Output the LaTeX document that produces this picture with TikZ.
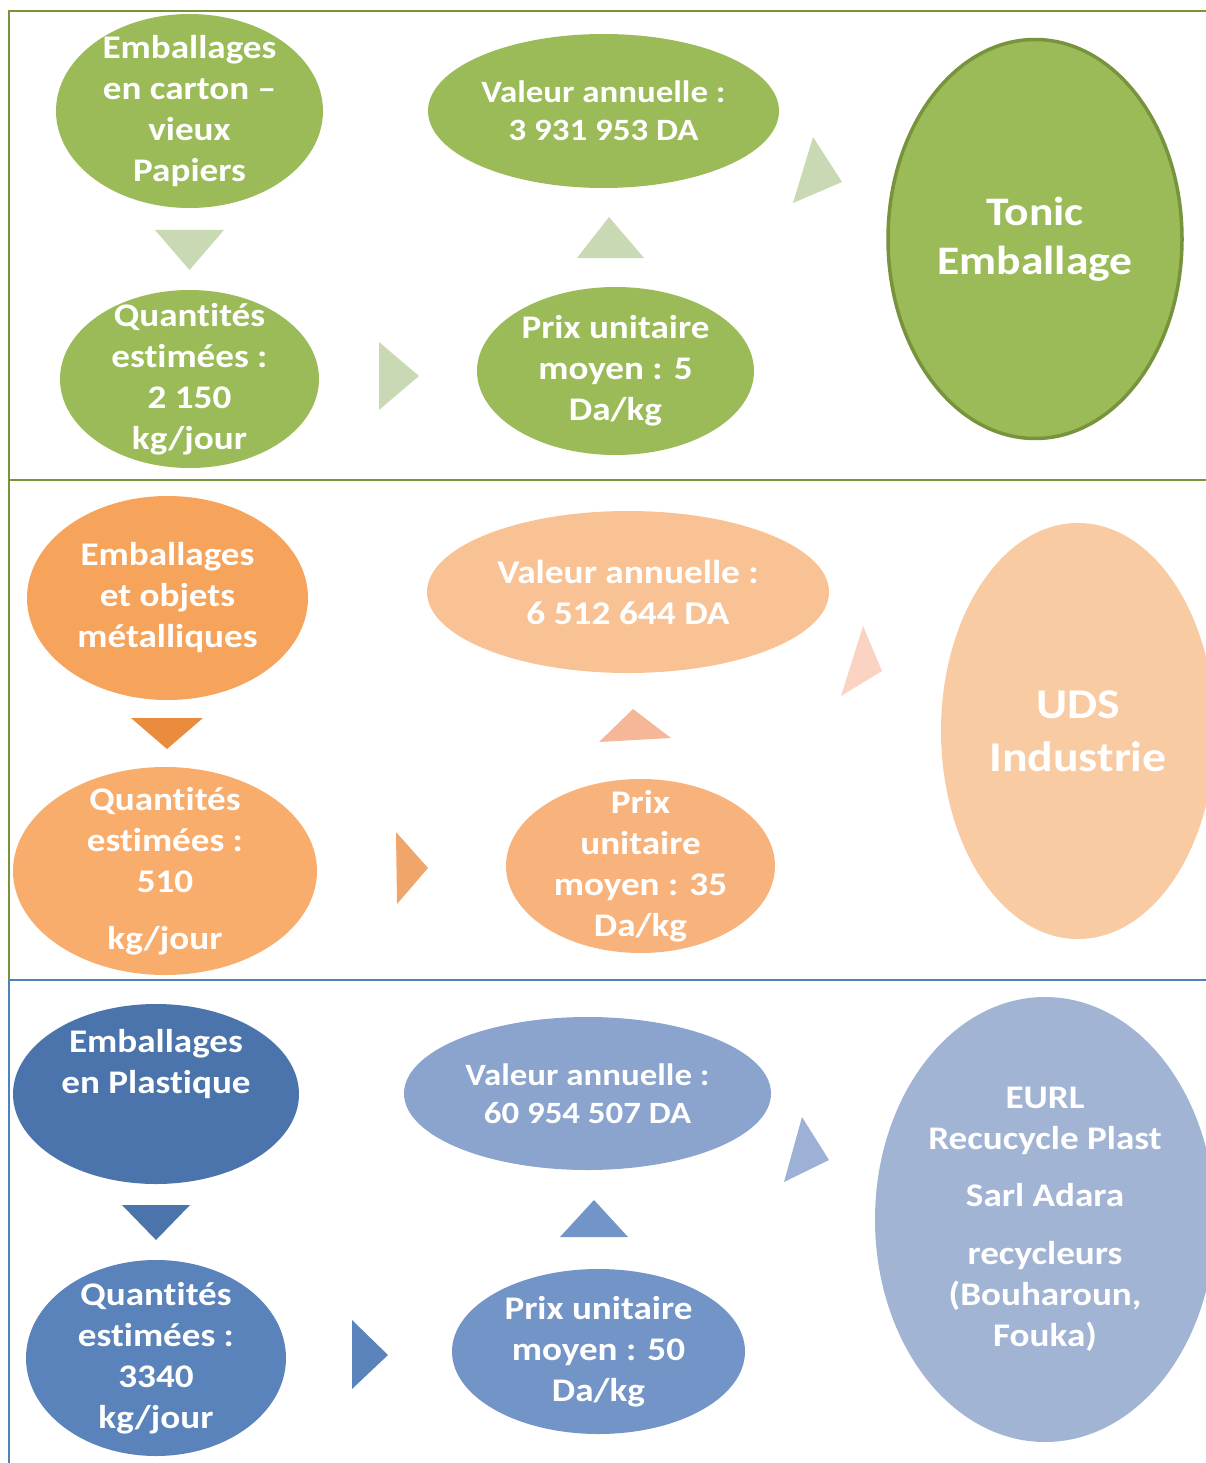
\documentclass[tikz,border=0pt]{standalone}
\usepackage{fontspec}
\setmainfont{Carlito}[FakeStretch=1.125, Ligatures=NoCommon]
\usetikzlibrary{shapes.geometric}
\definecolor{gA}{HTML}{9BBB59}
\definecolor{gB}{HTML}{77933C}
\definecolor{gT}{HTML}{C9D9B4}
\definecolor{oA}{HTML}{F6A35B}
\definecolor{oQ}{HTML}{F8AD6D}
\definecolor{oP}{HTML}{F8B37C}
\definecolor{oV}{HTML}{F9C295}
\definecolor{oU}{HTML}{F9CBA2}
\definecolor{oT1}{HTML}{EA8C3E}
\definecolor{oT2}{HTML}{F0A56B}
\definecolor{oT3}{HTML}{F5B797}
\definecolor{oT4}{HTML}{FAD3C2}
\definecolor{bA}{HTML}{4A74AB}
\definecolor{bQ}{HTML}{5A83BB}
\definecolor{bP}{HTML}{7394C6}
\definecolor{bV}{HTML}{8AA4CD}
\definecolor{bR}{HTML}{A2B4D4}
\definecolor{bT4}{HTML}{9DB1D6}
\definecolor{bL}{HTML}{4F81BD}
\tikzset{
  ell/.style={ellipse, draw=none, inner sep=0pt, outer sep=0pt},
  lbl/.style={text=white, align=center, inner sep=0pt, font=\fontsize{33}{41}\selectfont\bfseries},
  lblv/.style={text=white, align=center, inner sep=0pt, font=\fontsize{31}{38}\selectfont\bfseries},
  frameG/.style={draw=gB, line width=2.5pt},
  frameB/.style={draw=bL, line width=2.5pt},
}
\begin{document}
\begin{tikzpicture}[x=1pt,y=-1pt]
\useasboundingbox (0,0) rectangle (1206,1463);
% frame lines
\draw[frameG] (1206,11) -- (9,11) -- (9,980);
\draw[frameG] (9,480) -- (1206,480);
\draw[frameB] (9,980) -- (1206,980);
\draw[frameB] (9,980) -- (9,1463);

% ---------- section 1 (green)
\node[ell, fill=gA, minimum width=267pt, minimum height=194pt] (a1) at (189.5,111) {};
\node[lbl] (a1t) at (a1.center) {Emballages\\en carton –\\vieux\\Papiers};
\node[ell, fill=gA, minimum width=259pt, minimum height=178pt] (q1) at (189.5,379) {};
\node[lbl] (q1t) at (q1.center) {Quantités\\estimées :\\2 150\\kg/jour};
\node[ell, fill=gA, minimum width=277pt, minimum height=168pt] (p1) at (615.5,371) {};
\node[lbl] (p1t) at (p1.center) {Prix unitaire\\moyen : 5\\Da/kg};
\node[ell, fill=gA, minimum width=351pt, minimum height=154pt] (v1) at (603.5,111) {};
\node[lblv] (v1t) at (v1.center) {Valeur annuelle :\\3 931 953 DA};
\node[ell, fill=gA, draw=gB, line width=3.5pt, minimum width=294pt, minimum height=399pt] (t1) at (1035,239) {};
\node[lbl, font=\fontsize{40.5}{49}\selectfont\bfseries] (t1t) at (t1.center) {Tonic\\Emballage};
\fill[gT] (155,230) -- (224,230) -- (189.5,270) -- cycle;
\fill[gT] (379,342) -- (419,376) -- (379,410) -- cycle;
\fill[gT] (577,258) -- (609,217) -- (644,258) -- cycle;
\fill[gT] (813,137) -- (842,182) -- (793,203) -- cycle;

% ---------- section 2 (orange)
\node[ell, fill=oA, minimum width=281pt, minimum height=204pt] (a2) at (167.5,598) {};
\node[lbl] (a2t) at (a2.center) {Emballages\\et objets\\métalliques};
\node[ell, fill=oQ, minimum width=304pt, minimum height=208pt] (q2) at (165,871) {};
\node[lbl] (q2t) at (q2.center) {Quantités\\estimées :\\510\\[16pt]kg/jour};
\node[ell, fill=oP, minimum width=269pt, minimum height=174pt] (p2) at (640.5,866) {};
\node[lbl] (p2t) at (p2.center) {Prix\\unitaire\\moyen : 35\\Da/kg};
\node[ell, fill=oV, minimum width=402pt, minimum height=162pt] (v2) at (628,592) {};
\node[lbl, font=\fontsize{33.2}{41}\selectfont\bfseries] (v2t) at (v2.center) {Valeur annuelle :\\6 512 644 DA};
\node[ell, fill=oU, minimum width=274pt, minimum height=416pt] (u2) at (1078,731) {};
\node[lbl, font=\fontsize{42.4}{53}\selectfont\bfseries] (u2t) at (u2.center) {UDS\\Industrie};
\fill[oT1] (131,718) -- (203,718) -- (167,749) -- cycle;
\fill[oT2] (396,832) -- (428,868) -- (397,904) -- cycle;
\fill[oT3] (599,742) -- (633,709) -- (671,738) -- cycle;
\fill[oT4] (863,626) -- (882,671) -- (841,696) -- cycle;

% ---------- section 3 (blue)
\node[ell, fill=bA, minimum width=286pt, minimum height=180pt] (a3) at (156,1094) {};
\node[lbl] (a3t) at (156,1064) {Emballages\\en Plastique};
\node[ell, fill=bQ, minimum width=260pt, minimum height=196pt] (q3) at (156,1358) {};
\node[lbl] (q3t) at (q3.center) {Quantités\\estimées :\\3340\\kg/jour};
\node[ell, fill=bP, minimum width=293pt, minimum height=165pt] (p3) at (598.5,1351.5) {};
\node[lbl] (p3t) at (p3.center) {Prix unitaire\\moyen : 50\\Da/kg};
\node[ell, fill=bV, minimum width=367pt, minimum height=153pt] (v3) at (587.5,1093.5) {};
\node[lblv] (v3t) at (v3.center) {Valeur annuelle :\\60 954 507 DA};
\node[ell, fill=bR, minimum width=340pt, minimum height=445pt] (r3) at (1045,1219.5) {};
\node[lbl] (r3t) at (r3.center) {EURL\\Recucycle Plast\\[16pt]Sarl Adara\\[17pt]recycleurs\\(Bouharoun,\\Fouka)};
\fill[bA] (122,1205) -- (190,1205) -- (156,1240) -- cycle;
\fill[bQ] (352,1320) -- (388,1355) -- (352,1389) -- cycle;
\fill[bP] (560,1237) -- (594,1200) -- (628,1237) -- cycle;
\fill[bT4] (802,1117) -- (829,1160) -- (784,1182) -- cycle;
\end{tikzpicture}
\end{document}
